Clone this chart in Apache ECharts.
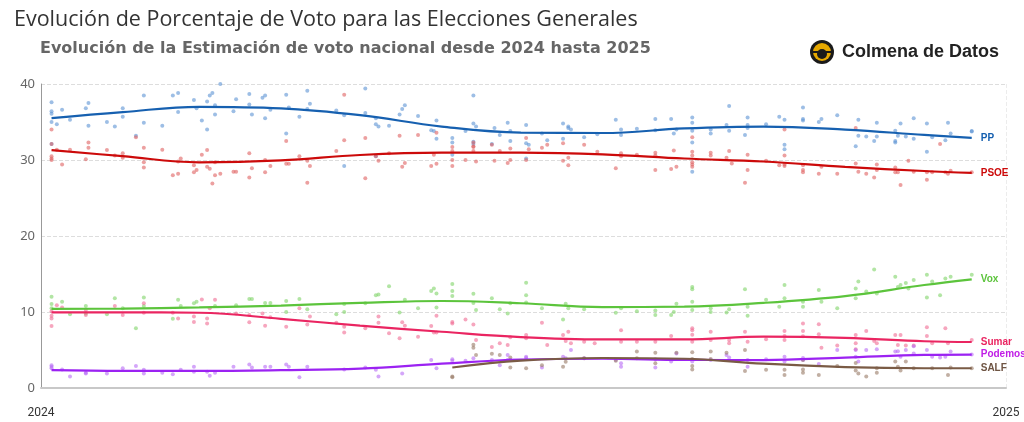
<!DOCTYPE html>
<html><head><meta charset="utf-8">
<script src="https://cdn.jsdelivr.net/npm/echarts@6/dist/echarts.min.js"></script>
<style>html,body{margin:0;padding:0;background:#fff}#c{width:1024px;height:422px}</style>
</head><body><div id="c"></div>
<script>
// x values are day of year 2024 (0 = 1 Jan 2024, 366 = 1 Jan 2025)
const xLabels = ['2024', '2025'];
const yTicks = [0, 10, 20, 30, 40];
const parties = ['PP', 'PSOE', 'Vox', 'Sumar', 'Podemos', 'SALF'];

const trendDays = [4, 31, 60, 91, 121, 152, 182, 213, 244, 274, 305, 335, 353];
const ppTrend = [35.5, 36.3, 37.0, 36.8, 35.9, 34.4, 33.6, 33.55, 34.15, 34.4, 34.0, 33.3, 32.9];
const psoeTrend = [31.3, 30.5, 29.7, 29.95, 30.66, 30.96, 30.96, 30.75, 30.2, 29.8, 29.1, 28.55, 28.3];
const voxTrend = [10.4, 10.45, 10.6, 10.85, 11.2, 11.45, 11.15, 10.65, 10.7, 11.2, 12.1, 13.55, 14.3];
const sumarTrend = [9.95, 9.95, 9.9, 9.1, 8.2, 7.4, 6.7, 6.4, 6.4, 6.75, 6.6, 6.15, 6.05];
const podemosTrend = [2.35, 2.25, 2.25, 2.35, 2.55, 3.2, 3.75, 3.85, 3.7, 3.68, 4.0, 4.35, 4.4];
const salfTrendDays = [156, 182, 213, 244, 274, 305, 335, 353];
const salfTrend = [2.7, 3.6, 3.95, 3.85, 3.2, 2.75, 2.6, 2.6];

const ppPolls = [[4,37.6],[4,36.4],[4,36.1],[4,35.0],[4,32.1],[8,36.6],[6,34.7],[11,35.3],[17,36.8],[18,37.5],[18,34.5],[25,35.0],[28,34.4],[31,36.8],[31,35.7],[36,33.2],[39,38.5],[39,34.9],[46,34.5],[50,38.5],[52,38.8],[52,36.3],[58,37.9],[59,36.8],[61,35.2],[63,37.7],[63,34.0],[64,38.5],[65,38.8],[66,36.0],[68,40.0],[66,37.2],[73,36.4],[74,38.0],[79,38.7],[79,37.3],[80,36.0],[84,38.2],[85,38.5],[85,35.5],[87,36.6],[93,38.6],[93,33.5],[94,36.9],[98,35.7],[101,39.1],[101,36.7],[102,37.4],[112,36.5],[115,35.9],[115,29.2],[123,39.4],[123,36.2],[127,35.5],[127,34.7],[128,34.4],[127,30.5],[132,34.5],[136,36.0],[137,36.7],[138,37.2],[143,35.8],[148,33.9],[149,33.8],[150,35.2],[150,32.8],[156,32.9],[156,32.3],[156,30.7],[161,33.8],[164,38.5],[164,34.8],[165,34.4],[164,32.4],[164,32.1],[171,32.1],[172,34.2],[174,33.3],[177,34.9],[178,33.8],[178,32.5],[184,34.6],[184,32.2],[185,32.0],[184,30.2],[190,33.5],[192,32.6],[198,34.8],[200,34.4],[200,34.2],[201,34.0],[198,32.8],[206,33.0],[211,33.4],[218,35.3],[220,34.0],[220,33.3],[226,34.1],[233,35.4],[233,33.9],[239,35.4],[240,33.5],[241,34.0],[247,35.6],[247,34.9],[247,33.85],[247,32.3],[247,28.45],[254,34.0],[254,33.5],[260,34.6],[261,37.1],[261,33.85],[267,33.3],[268,35.6],[268,34.6],[268,34.2],[275,34.7],[280,35.7],[282,35.3],[282,32.0],[282,31.4],[289,36.9],[289,35.4],[289,35.2],[295,35.0],[296,35.4],[302,35.9],[309,31.8],[310,35.3],[310,33.2],[313,33.1],[316,32.5],[317,34.9],[317,33.1],[324,33.85],[324,32.5],[324,32.3],[325,33.2],[326,34.8],[328,33.1],[331,35.5],[331,32.8],[336,34.8],[336,31.1],[338,33.0],[343,32.6],[344,34.9],[345,33.5],[353,33.75],[353,33.8]];
const psoePolls = [[4,34.0],[4,32.1],[4,30.5],[4,30.2],[4,30.0],[6,31.35],[8,29.4],[11,31.35],[17,30.1],[18,32.3],[18,31.6],[25,31.3],[28,30.6],[31,30.3],[31,30.9],[36,33.0],[39,31.6],[39,29.7],[39,29.0],[46,31.35],[50,28.0],[52,28.2],[52,29.8],[53,30.2],[58,29.3],[59,28.7],[58,28.4],[61,30.7],[63,31.3],[63,29.1],[64,28.85],[65,26.9],[66,28.0],[68,28.2],[66,29.7],[73,28.45],[74,28.45],[79,30.9],[79,27.7],[80,28.9],[85,30.0],[85,28.4],[87,29.2],[93,32.5],[93,29.5],[94,29.5],[98,30.5],[101,29.9],[101,27.0],[102,29.2],[112,31.2],[115,38.6],[115,32.6],[123,32.9],[123,27.6],[127,30.5],[128,29.9],[132,30.9],[136,33.2],[137,29.1],[138,29.6],[143,33.3],[148,29.2],[149,30.7],[150,33.6],[150,29.5],[156,31.7],[156,31.2],[156,30.0],[156,29.2],[161,30.0],[164,32.3],[164,31.8],[164,31.7],[164,31.2],[165,29.8],[171,32.0],[172,29.9],[174,31.2],[177,29.6],[178,31.5],[178,30.0],[184,32.9],[184,30.0],[185,31.4],[190,31.6],[192,32.0],[198,29.9],[198,32.2],[200,30.3],[200,29.3],[206,32.0],[211,31.1],[218,28.9],[220,30.9],[220,30.5],[226,30.7],[233,30.95],[233,30.6],[233,28.7],[239,28.8],[240,31.25],[241,29.1],[247,33.0],[247,31.1],[247,30.6],[247,29.7],[247,29.4],[247,29.1],[254,30.95],[254,30.6],[260,30.3],[261,31.2],[262,29.55],[268,30.7],[268,28.7],[267,27.0],[275,29.9],[280,29.3],[282,34.0],[282,30.6],[282,29.4],[282,29.2],[289,29.3],[289,28.7],[289,28.4],[296,29.1],[295,28.2],[302,28.2],[309,34.2],[309,29.55],[310,28.45],[313,28.2],[316,27.7],[317,29.4],[317,28.7],[324,29.0],[324,28.4],[325,28.4],[326,26.7],[329,29.9],[331,28.45],[336,28.4],[336,27.4],[338,28.4],[341,32.1],[343,28.4],[344,28.2],[345,28.6],[353,28.4]];
const voxPolls = [[4,12.0],[4,11.05],[4,10.5],[8,11.35],[11,9.7],[17,10.8],[17,9.8],[25,9.7],[28,11.8],[31,10.5],[36,7.85],[39,11.9],[39,10.8],[52,11.6],[50,9.1],[53,10.8],[58,11.15],[59,11.35],[66,10.8],[74,10.9],[79,11.7],[80,11.7],[85,11.2],[87,11.2],[93,11.45],[93,10.0],[98,11.7],[101,10.35],[112,9.7],[115,11.05],[115,10.0],[123,11.15],[127,12.2],[128,12.3],[132,13.4],[136,9.95],[138,11.6],[143,10.5],[148,12.75],[149,13.1],[150,12.45],[150,10.6],[156,13.7],[156,12.75],[156,12.1],[164,12.4],[164,11.2],[165,10.25],[171,11.8],[174,10.35],[177,9.8],[178,11.15],[184,13.85],[184,12.2],[184,11.25],[190,10.5],[198,9.0],[199,11.1],[200,10.5],[206,10.35],[218,9.9],[220,10.5],[226,10.1],[233,10.2],[233,9.6],[239,9.6],[240,10.0],[241,11.1],[247,13.3],[247,13.0],[247,11.35],[247,10.25],[254,10.5],[254,10.0],[260,9.95],[261,10.35],[267,13.0],[268,10.7],[268,9.5],[275,11.6],[280,10.7],[282,13.55],[282,11.8],[289,11.35],[289,10.7],[295,12.9],[296,11.35],[302,10.5],[309,13.1],[309,11.8],[310,14.0],[313,12.7],[316,15.6],[317,12.45],[324,14.65],[325,13.3],[326,13.55],[328,13.8],[329,13.1],[331,14.2],[336,14.9],[336,11.9],[338,14.0],[341,12.2],[343,14.4],[345,14.65],[353,14.9]];
const sumarPolls = [[4,10.1],[4,9.5],[4,9.15],[4,8.15],[6,10.9],[8,10.6],[17,10.25],[17,9.6],[28,10.8],[31,9.6],[39,11.15],[39,9.9],[50,9.9],[52,9.15],[58,9.4],[58,8.7],[61,11.65],[63,9.15],[63,8.5],[64,10.5],[66,11.6],[74,9.8],[79,9.6],[79,8.65],[84,9.8],[85,8.2],[87,9.3],[93,8.07],[98,10.5],[101,8.35],[102,9.4],[112,8.6],[115,7.3],[115,8.07],[123,7.85],[128,9.4],[128,8.6],[132,7.2],[136,6.55],[137,8.65],[138,8.2],[143,6.75],[148,8.15],[149,7.3],[150,7.3],[150,9.5],[156,8.7],[156,8.5],[161,9.0],[164,8.35],[165,6.3],[171,5.4],[174,5.9],[177,5.65],[178,6.67],[184,6.97],[184,6.55],[190,8.6],[192,5.65],[198,6.97],[199,6.2],[200,7.4],[201,5.9],[206,6.1],[210,5.9],[220,7.6],[220,6.1],[226,6.1],[233,6.1],[239,6.85],[247,7.85],[247,7.6],[247,7.0],[247,6.1],[254,7.4],[254,6.3],[261,6.3],[261,5.9],[267,7.4],[268,6.1],[275,6.4],[282,7.5],[282,6.85],[282,6.3],[289,8.5],[289,7.5],[289,6.8],[295,8.4],[295,7.07],[296,5.3],[302,5.6],[309,6.97],[309,5.9],[309,5.1],[313,7.5],[316,6.2],[317,5.9],[324,6.97],[325,5.65],[326,6.97],[328,5.6],[331,5.6],[336,8.0],[336,6.85],[338,5.9],[343,7.85],[344,5.9],[353,6.3]];
const podemosPolls = [[4,3.0],[4,2.8],[4,2.6],[8,2.45],[11,1.5],[17,2.0],[17,1.9],[25,1.9],[31,2.6],[36,2.9],[39,2.4],[39,1.9],[46,2.0],[50,1.8],[53,2.4],[58,2.8],[58,2.15],[63,2.15],[64,1.6],[66,2.0],[73,2.8],[79,3.1],[80,2.7],[85,2.8],[87,2.8],[93,3.1],[94,2.8],[98,1.4],[101,2.8],[115,2.45],[123,2.7],[127,2.4],[128,1.5],[137,1.9],[148,3.7],[150,2.6],[156,3.77],[156,3.6],[161,3.6],[164,3.9],[171,3.7],[174,3.0],[177,4.35],[177,3.7],[178,3.7],[184,4.1],[184,3.95],[190,2.7],[198,4.1],[199,3.9],[201,5.0],[206,3.9],[218,3.7],[220,3.25],[220,2.8],[233,3.77],[233,2.7],[239,3.5],[241,4.55],[247,3.5],[254,3.7],[260,4.35],[261,4.0],[268,2.8],[268,3.7],[275,3.77],[282,4.1],[282,3.5],[289,3.7],[289,3.95],[295,3.15],[302,5.0],[309,5.0],[309,4.1],[310,3.5],[313,5.0],[317,5.1],[324,4.8],[325,4.85],[326,4.1],[328,5.0],[331,5.5],[331,4.55],[336,5.0],[338,4.1],[341,4.0],[343,4.1],[345,4.8],[353,4.4]];
const salfPolls = [[156,1.5],[156,1.4],[164,5.7],[164,5.3],[165,4.35],[171,4.5],[174,4.35],[178,4.0],[178,2.7],[184,2.6],[190,3.0],[198,2.8],[199,3.45],[206,3.9],[218,3.6],[226,4.8],[226,3.9],[233,4.65],[233,3.25],[241,4.65],[247,4.7],[247,3.8],[247,2.9],[247,2.45],[254,4.8],[254,3.8],[260,4.65],[267,5.0],[267,2.25],[275,2.4],[282,2.4],[282,1.7],[289,3.7],[289,2.45],[289,2.0],[295,1.7],[302,2.9],[309,3.3],[309,2.3],[310,1.9],[313,1.5],[317,2.6],[317,2.0],[324,3.5],[325,2.8],[326,2.3],[328,3.5],[331,2.6],[338,2.6],[344,1.7],[345,2.7],[353,2.6]];

const lineColors = ['#1660b0', '#cc0a0a', '#5cc43c', '#ea2561', '#9b22f2', '#7a5b45'];
const labelColors = ['#1660b0', '#cc0a0a', '#5cc43c', '#ea2561', '#c01ee6', '#6e5443'];
const dotColors = ['#5b93d3', '#e06060', '#7fd468', '#f06a92', '#b86af5', '#977a66'];

const trends = [ppTrend, psoeTrend, voxTrend, sumarTrend, podemosTrend, salfTrend];
const trendX = [trendDays, trendDays, trendDays, trendDays, trendDays, salfTrendDays];
const polls = [ppPolls, psoePolls, voxPolls, sumarPolls, podemosPolls, salfPolls];

const series = [];
parties.forEach((p, i) => {
  series.push({
    name: p + ' encuestas', type: 'scatter', data: polls[i], symbolSize: 4, z: 2,
    itemStyle: { color: dotColors[i], opacity: 0.6 }, silent: true
  });
});
parties.forEach((p, i) => {
  series.push({
    name: p, type: 'line', smooth: 0.4, showSymbol: false, z: 5,
    data: trendX[i].map((d, k) => [d, trends[i][k]]),
    lineStyle: { color: lineColors[i], width: 2.2 },
    itemStyle: { color: lineColors[i] },
    endLabel: { show: true, formatter: '{a}', color: labelColors[i], fontWeight: 'bold',
      fontSize: 10, fontFamily: 'Liberation Sans', distance: 9 }
  });
});

const chart = echarts.init(document.getElementById('c'), null, { renderer: 'canvas' });
chart.setOption({
  animation: false,
  backgroundColor: '#fff',
  title: [
    { text: 'Evolución de Porcentaje de Voto para las Elecciones Generales', left: 9, top: 4,
      textStyle: { fontFamily: 'Open Sans', fontWeight: 'normal', fontSize: 21.5, color: '#333' } },
    { text: 'Evolución de la Estimación de voto nacional desde 2024 hasta 2025', left: 35, top: 36,
      textStyle: { fontFamily: 'DejaVu Sans', fontWeight: 'bold', fontSize: 16, color: '#666' } }
  ],
  graphic: [
    { type: 'circle', shape: { cx: 822, cy: 52, r: 12 }, style: { fill: '#1a1a1a' } },
    { type: 'circle', shape: { cx: 822, cy: 52, r: 9 }, style: { fill: '#e6a800' } },
    { type: 'circle', shape: { cx: 822, cy: 54, r: 5 }, style: { fill: '#1a1a1a' } },
    { type: 'rect', shape: { x: 811, y: 51, width: 22, height: 2 }, style: { fill: '#1a1a1a' } },
    { type: 'text', left: 842, top: 43, style: { text: 'Colmena de Datos', fontFamily: 'Liberation Sans',
      fontWeight: 'bold', fontSize: 18, fill: '#222' } }
  ],
  grid: { left: 41, right: 18, top: 84, bottom: 34, containLabel: false },
  xAxis: {
    type: 'value', min: 0, max: 366, interval: 366, offset: 15,
    axisLine: { show: true, lineStyle: { color: '#c8c8c8', width: 2 } },
    axisTick: { show: false },
    splitLine: { show: true, lineStyle: { color: '#ececec', type: 'dashed' } },
    axisLabel: { color: '#333', fontSize: 12, fontFamily: 'Roboto', margin: 4,
      formatter: v => (v === 0 ? xLabels[0] : xLabels[1]) }
  },
  yAxis: {
    type: 'value', min: yTicks[0], max: yTicks[yTicks.length - 1], interval: 10,
    axisLine: { show: true, lineStyle: { color: '#999', width: 1 } },
    axisTick: { show: false },
    splitLine: { show: true, lineStyle: { color: '#ddd', type: 'dashed' } },
    axisLabel: { color: '#666', fontSize: 13, fontFamily: 'Noto Sans', margin: 6 }
  },
  series: series
});
</script></body></html>
